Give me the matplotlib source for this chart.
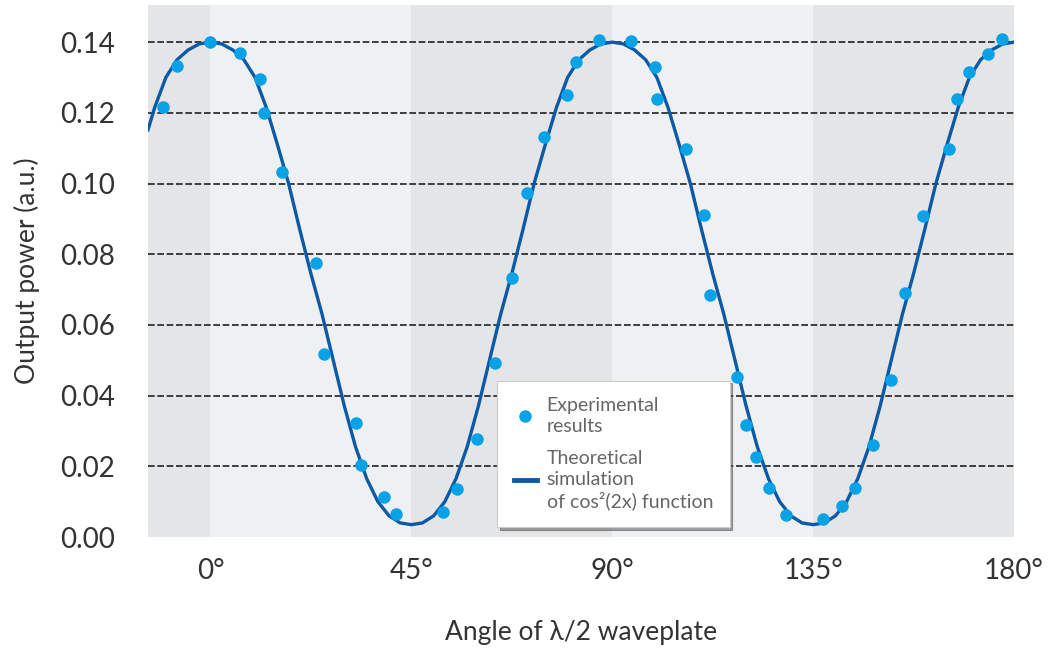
import numpy as np
import matplotlib
matplotlib.use("Agg")
import matplotlib.pyplot as plt
from matplotlib.lines import Line2D

plt.rcParams['font.family'] = ['Lato', 'DejaVu Sans']

# experimental points (angle in degrees, output power a.u.)
exp_angle = [-10.6, -7.5, 0.0, 6.6, 11.0, 12.1, 16.1, 23.7, 25.5, 32.5, 33.7, 38.8,
             41.6, 52.1, 55.2, 59.8, 63.8, 67.5, 70.9, 74.8, 79.9, 81.9, 87.0, 94.3,
             99.6, 100.1, 106.6, 110.6, 111.9, 117.9, 119.9, 122.2, 125.2, 128.9,
             137.3, 141.5, 144.3, 148.5, 152.5, 155.6, 159.6, 165.5, 167.2, 170.0,
             174.1, 177.4]
exp_power = [0.1216, 0.1332, 0.1400, 0.1369, 0.1296, 0.1199, 0.1032, 0.0775, 0.0519,
             0.0322, 0.0203, 0.0113, 0.0066, 0.0071, 0.0137, 0.0276, 0.0492, 0.0733,
             0.0973, 0.1133, 0.1251, 0.1345, 0.1405, 0.1402, 0.1329, 0.1240, 0.1098,
             0.0910, 0.0686, 0.0452, 0.0318, 0.0226, 0.0140, 0.0061, 0.0050, 0.0088,
             0.0140, 0.0259, 0.0445, 0.0690, 0.0907, 0.1098, 0.1238, 0.1315, 0.1367,
             0.1409]

# theoretical curve
sim_angle = [-14, -12.5, -10, -7.5, -5, -2.5, 0, 2.5, 5, 7.5, 10, 12.5, 15, 17.5, 20,
             22.5, 25, 27.5, 30, 32.5, 35, 37.5, 40, 42.5, 45, 47.5, 50, 52.5, 55,
             57.5, 60, 62.5, 65, 67.5, 70, 72.5, 75, 77.5, 80, 82.5, 85, 87.5, 90,
             92.5, 95, 97.5, 100, 102.5, 105, 107.5, 110, 112.5, 115, 117.5, 120,
             122.5, 125, 127.5, 130, 132.5, 135, 137.5, 140, 142.5, 145, 147.5, 150,
             152.5, 155, 157.5, 160, 162.5, 165, 167.5, 170, 172.5, 175, 177.5, 180]
sim_power = [0.1152, 0.1215, 0.1300, 0.1350, 0.1378, 0.1395, 0.1400, 0.1395, 0.1378,
             0.1350, 0.1300, 0.1215, 0.1110, 0.1000, 0.0870, 0.0745, 0.0630, 0.0500,
             0.0370, 0.0255, 0.0165, 0.0100, 0.0060, 0.0040, 0.0035, 0.0040, 0.0060,
             0.0100, 0.0165, 0.0255, 0.0370, 0.0500, 0.0630, 0.0745, 0.0870, 0.1000,
             0.1110, 0.1215, 0.1300, 0.1350, 0.1378, 0.1395, 0.1400, 0.1395, 0.1378,
             0.1350, 0.1300, 0.1215, 0.1110, 0.1000, 0.0870, 0.0745, 0.0630, 0.0500,
             0.0370, 0.0255, 0.0165, 0.0100, 0.0060, 0.0040, 0.0035, 0.0040, 0.0060,
             0.0100, 0.0165, 0.0255, 0.0370, 0.0500, 0.0630, 0.0745, 0.0870, 0.1000,
             0.1110, 0.1215, 0.1300, 0.1350, 0.1378, 0.1395, 0.1400]

xticks = [0, 45, 90, 135, 180]
xtick_labels = ['0°', '45°', '90°', '135°', '180°']
yticks = [0.00, 0.02, 0.04, 0.06, 0.08, 0.10, 0.12, 0.14]

fig = plt.figure(figsize=(10.51, 6.53), dpi=100)
ax = fig.add_axes([0.1408, 0.1776, 0.824, 0.8147])

# alternating background bands
bands = [(-14, 0), (0, 45), (45, 90), (90, 135), (135, 180)]
band_cols = ['#e4e5e7', '#eff0f2', '#e4e5e7', '#eff0f2', '#e4e5e7']
for (a, b), c in zip(bands, band_cols):
    ax.axvspan(a, b, color=c, lw=0, zorder=0)

for y in yticks[1:]:
    ax.axhline(y, color='#222222', lw=1.2, ls=(0, (4, 1.6)), zorder=1)

ax.plot(sim_angle, sim_power, color='#0c5aa6', lw=2.4, zorder=2)
ax.plot(exp_angle, exp_power, 'o', color='#0aa2e6', ms=9, mec='none', zorder=3)

ax.set_xlim(-14, 180)
ax.set_ylim(0, 0.1505)
ax.set_xticks(xticks)
ax.set_xticklabels(xtick_labels)
ax.set_yticks(yticks)
ax.set_yticklabels(['%.2f' % v for v in yticks])
ax.tick_params(length=0, labelsize=20, colors='#333333')
ax.tick_params(axis='x', pad=15)
ax.tick_params(axis='y', pad=24)
for s in ax.spines.values():
    s.set_visible(False)

ax.set_xlabel('Angle of λ/2 waveplate', fontsize=19, color='#333333', labelpad=26)
ax.set_ylabel('Output power (a.u.)', fontsize=19, color='#333333', labelpad=14)

handles = [Line2D([], [], ls='none', marker='o', color='#0aa2e6', ms=9, mec='none'),
           Line2D([], [], color='#0c5aa6', lw=3.5)]
labels = ['Experimental\nresults', 'Theoretical\nsimulation\nof cos²(2x) function']
leg = ax.legend(handles, labels, loc='lower left', bbox_to_anchor=(0.403, 0.019),
                borderaxespad=0, fontsize=14, frameon=True, fancybox=False, shadow=True,
                handlelength=1.2, handletextpad=0.5, borderpad=0.85, labelspacing=0.8)
leg.get_frame().set_edgecolor('#cccccc')
leg.get_frame().set_linewidth(0.8)
for t in leg.get_texts():
    t.set_color('#666666')
    t.set_linespacing(1.25)

fig.savefig('out.png', dpi=100)
